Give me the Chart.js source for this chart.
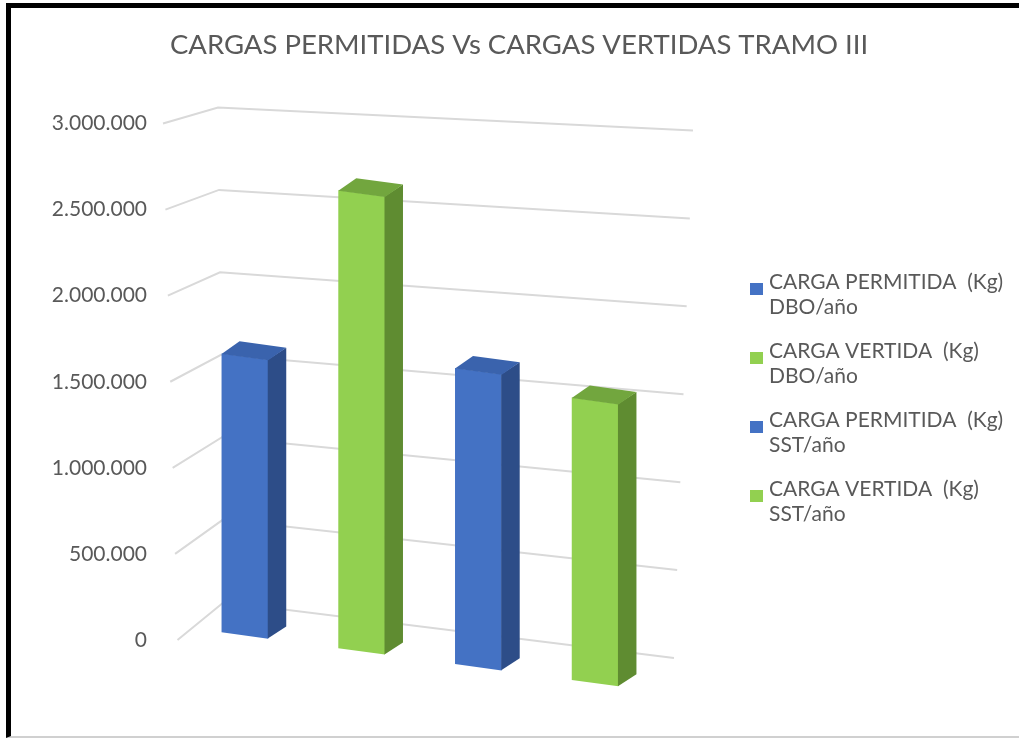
<!DOCTYPE html>
<html>
<head>
<meta charset="utf-8">
<title>Cargas permitidas vs cargas vertidas - Tramo III</title>
<script src="https://cdn.jsdelivr.net/npm/chart.js@4.4.1/dist/chart.umd.min.js"></script>
<style>
  html, body { margin: 0; padding: 0; background: #fff; overflow: hidden; }
  .frame {
    position: absolute; left: 6px; top: 3px; width: 1008px; height: 728px;
    border-top: 5px solid #000; border-left: 5px solid #000; border-bottom: 2px solid #d0d0d0;
  }
  canvas { display: block; }
</style>
</head>
<body>
<div class="frame"><canvas id="chart" width="1008" height="728"></canvas></div>
<script>
const chartTitle = "CARGAS PERMITIDAS Vs CARGAS VERTIDAS TRAMO III";
const categories = ["TRAMO III"];
const seriesLabels = [
  ["CARGA PERMITIDA  (Kg)", "DBO/año"],
  ["CARGA VERTIDA  (Kg)", "DBO/año"],
  ["CARGA PERMITIDA  (Kg)", "SST/año"],
  ["CARGA VERTIDA  (Kg)", "SST/año"]
];
const seriesValues = [1620000, 2660000, 1720000, 1640000];
const yTicks = [0, 500000, 1000000, 1500000, 2000000, 2500000, 3000000];

const frontColors = ["#4472c4", "#92d050", "#4472c4", "#92d050"];
const sideColors = ["#2d4d88", "#5f8c31", "#2d4d88", "#5f8c31"];
const topColors = ["#3a63ad", "#72a63e", "#3a63ad", "#72a63e"];
const gridColor = "#d9d9d9";
const textColor = "#595959";
const fontFamily = "Lato, 'Open Sans', sans-serif";

// 3d look: skew of the bars, depth of the side/top faces, shape of the walls
const skew = 0.136;
const skewOriginX = 267;
const depth = { dx: 18, dy: 14.5 };
const wall = {
  frontX: [166.5, 152], backX: [213, 207], rise: [38, 16],
  rightX: [663, 682], drop: [56, 23]
};
const lerp = (a, f) => a[0] + (a[1] - a[0]) * f;

// layout: where the plot ends on the left / where the legend starts
const plotLeft = 93.5;
const legendWidth = 250;
const padRight = 1008 - 724.5 - legendWidth;
const padLeft = padRight + 8;

function fmt(v) {
  return String(v).replace(/\B(?=(\d{3})+(?!\d))/g, ".");
}

function swatch(color) {
  const c = document.createElement("canvas");
  c.width = 13;
  c.height = 26;
  const g = c.getContext("2d");
  g.fillStyle = color;
  g.fillRect(0, 14, 13, 12);
  return c;
}

// widest tick label, so the mirrored labels end at the same x
const measure = document.createElement("canvas").getContext("2d");
measure.font = "21px " + fontFamily;
const widestTick = Math.max(...yTicks.map((v) => measure.measureText(fmt(v)).width));

const depthPlugin = {
  id: "depth",
  beforeDatasetsDraw(chart) {
    const ctx = chart.ctx;
    const y = chart.scales.y;
    ctx.save();
    ctx.strokeStyle = gridColor;
    ctx.lineWidth = 2;
    y.ticks.forEach((t) => {
      const f = t.value / y.max;
      const y0 = y.getPixelForValue(t.value);
      const yb = y0 - lerp(wall.rise, f);
      ctx.beginPath();
      ctx.moveTo(lerp(wall.frontX, f), y0);
      ctx.lineTo(lerp(wall.backX, f), yb);
      ctx.lineTo(lerp(wall.rightX, f), yb + lerp(wall.drop, f));
      ctx.stroke();
    });
    ctx.restore();

    ctx.save();
    ctx.transform(1, skew, 0, 1, 0, -skew * skewOriginX);
  },
  afterDatasetsDraw(chart) {
    const ctx = chart.ctx;
    chart.data.datasets.forEach((ds, i) => {
      chart.getDatasetMeta(i).data.forEach((bar) => {
        const { x, y, base, width } = bar.getProps(["x", "y", "base", "width"], true);
        const r = x + width / 2;
        const l = x - width / 2;
        ctx.fillStyle = sideColors[i];
        ctx.beginPath();
        ctx.moveTo(r - 0.5, y);
        ctx.lineTo(r + depth.dx, y - depth.dy);
        ctx.lineTo(r + depth.dx, base - depth.dy);
        ctx.lineTo(r - 0.5, base);
        ctx.closePath();
        ctx.fill();
        ctx.fillStyle = topColors[i];
        ctx.beginPath();
        ctx.moveTo(l, y + 0.5);
        ctx.lineTo(r, y + 0.5);
        ctx.lineTo(r + depth.dx, y - depth.dy);
        ctx.lineTo(l + depth.dx, y - depth.dy);
        ctx.closePath();
        ctx.fill();
      });
    });
    ctx.restore();
  }
};

// let the legend text run to the canvas edge instead of being clipped
const legendRoom = {
  id: "legendRoom",
  afterLayout(chart) {
    chart.legend.right = chart.width;
    chart.legend.width = chart.legend.right - chart.legend.left;
  }
};

Chart.defaults.font.family = fontFamily;
Chart.defaults.color = textColor;

const datasets = seriesValues.map((v, i) => ({
  label: seriesLabels[i],
  data: [v],
  backgroundColor: frontColors[i],
  borderWidth: 0,
  clip: false
}));

new Chart(document.getElementById("chart"), {
  type: "bar",
  data: { labels: categories, datasets },
  options: {
    responsive: false,
    animation: false,
    events: [],
    categoryPercentage: 0.74,
    barPercentage: 0.4,
    layout: { padding: { left: padLeft, right: padRight, top: 0, bottom: 96 } },
    scales: {
      x: { display: false },
      y: {
        min: 0,
        max: 3000000,
        afterBuildTicks: (scale) => {
          scale.ticks = yTicks.map((v) => ({ value: v }));
        },
        afterFit: (scale) => {
          scale.width = plotLeft - padLeft;
        },
        grid: { display: false, drawTicks: false },
        border: { display: false },
        ticks: {
          mirror: true,
          crossAlign: "far",
          padding: 42.5 - widestTick,
          color: textColor,
          font: { size: 21 },
          callback: (v) => fmt(v)
        }
      }
    },
    plugins: {
      title: {
        display: true,
        text: chartTitle,
        color: textColor,
        font: { size: 27.5, weight: "normal", lineHeight: 1.2 },
        padding: { top: 21, bottom: 61.5 }
      },
      legend: {
        position: "right",
        maxWidth: legendWidth,
        title: { display: true, text: " ", font: { size: 10, lineHeight: 1.2 }, padding: { top: 0, bottom: 140 } },
        labels: {
          usePointStyle: true,
          boxWidth: 4,
          boxHeight: 12,
          padding: 19,
          color: textColor,
          font: { size: 21, lineHeight: "25px" },
          generateLabels: () => seriesLabels.map((text, i) => ({
            text,
            fillStyle: frontColors[i],
            strokeStyle: frontColors[i],
            lineWidth: 0,
            pointStyle: swatch(frontColors[i]),
            fontColor: textColor,
            hidden: false,
            datasetIndex: i
          }))
        }
      },
      tooltip: { enabled: false }
    }
  },
  plugins: [depthPlugin, legendRoom]
});
</script>
</body>
</html>
